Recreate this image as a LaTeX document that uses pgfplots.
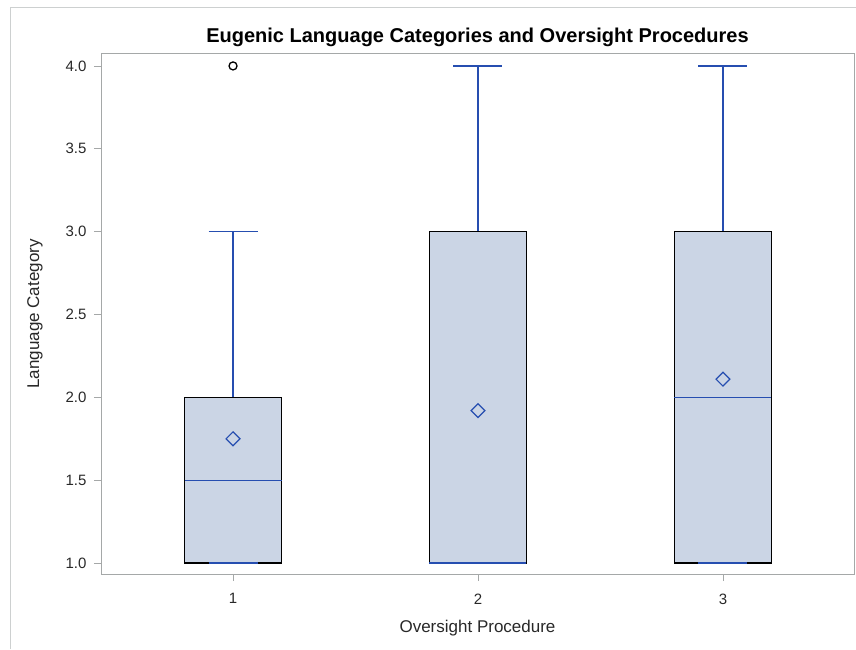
\documentclass[border=0pt]{standalone}
\usepackage{pgfplots}
\pgfplotsset{compat=1.18}
\usepgfplotslibrary{statistics}
\usepackage{fontspec}
\setmainfont{Liberation Sans}
\definecolor{sasblue}{RGB}{38,78,176}
\definecolor{boxfill}{RGB}{203,213,229}
\definecolor{axgray}{RGB}{165,168,168}
\definecolor{framegray}{RGB}{205,208,208}
\definecolor{txt}{RGB}{40,40,40}
\begin{document}
\begin{tikzpicture}
\path[use as bounding box] (0pt,0pt) rectangle (856pt,649pt);
\draw[framegray, line width=1pt] (10pt,0pt) -- (10pt,641pt) -- (856pt,641pt);
\node[rotate=90, font=\fontsize{17}{20}\selectfont, text=txt, anchor=center] at (35pt,335pt) {Language Category};
\begin{axis}[
  at={(101pt,75pt)}, anchor=south west,
  scale only axis, width=753pt, height=520pt,
  xmin=0.461, xmax=3.535, ymin=0.934, ymax=4.072,
  xtick={1,2,3}, ytick={1,1.5,2,2.5,3,3.5,4},
  yticklabel style={/pgf/number format/fixed, /pgf/number format/fixed zerofill, /pgf/number format/precision=1},
  /pgf/number format/assume math mode=true,
  tick align=outside, major tick length=7pt,
  tick style={axgray, line width=0.8pt},
  axis line style={axgray, line width=1pt},
  ticklabel style={font=\fontsize{15}{18}\selectfont, text=txt},
  xticklabel style={yshift=-9pt},
  yticklabel style={xshift=-4pt},
  xtick pos=bottom, ytick pos=left,
  title={\textbf{Eugenic Language Categories and Oversight Procedures}},
  title style={font=\fontsize{20}{24}\selectfont, text=black, at={(axis description cs:0.5,1)}, anchor=center, yshift=11pt},
  xlabel={Oversight Procedure},
  xlabel style={font=\fontsize{17}{20}\selectfont, text=txt, at={(axis description cs:0.5,0)}, anchor=center, yshift=-54pt},
  boxplot/draw direction=y,
  boxplot/every box/.style={draw=black, fill=boxfill, line width=1.2pt},
  boxplot/every whisker/.style={draw=sasblue, line width=1.4pt},
  boxplot/every median/.style={draw=sasblue, line width=1.4pt},
  clip=false,
]
\addplot[draw=sasblue, line width=1.4pt, boxplot prepared={draw position=1, lower whisker=1, lower quartile=1, median=1.5, upper quartile=2, upper whisker=3, box extend=0.396, whisker extend=0.2}, mark=o, mark size=4pt, mark options={draw=black, line width=1.3pt}]
  coordinates {(0,4)};
\addplot[draw=sasblue, line width=1.4pt, boxplot prepared={draw position=2, lower whisker=1, lower quartile=1, median=1, upper quartile=3, upper whisker=4, box extend=0.396, whisker extend=0.2}]
  coordinates {};
\addplot[draw=sasblue, line width=1.4pt, boxplot prepared={draw position=3, lower whisker=1, lower quartile=1, median=2, upper quartile=3, upper whisker=4, box extend=0.396, whisker extend=0.2}]
  coordinates {};
% lower whisker caps drawn over the box edge
\addplot[sasblue, line width=1.4pt, no marks, forget plot] coordinates {(0.9,1) (1.1,1)};
\addplot[sasblue, line width=1.4pt, no marks, forget plot] coordinates {(2.9,1) (3.1,1)};
\addplot[only marks, mark=square, mark size=4.9pt, mark options={draw=sasblue, line width=1.2pt, fill=none, rotate=45}]
  coordinates {(1,1.75) (2,1.92) (3,2.11)};
\end{axis}
\end{tikzpicture}
\end{document}
